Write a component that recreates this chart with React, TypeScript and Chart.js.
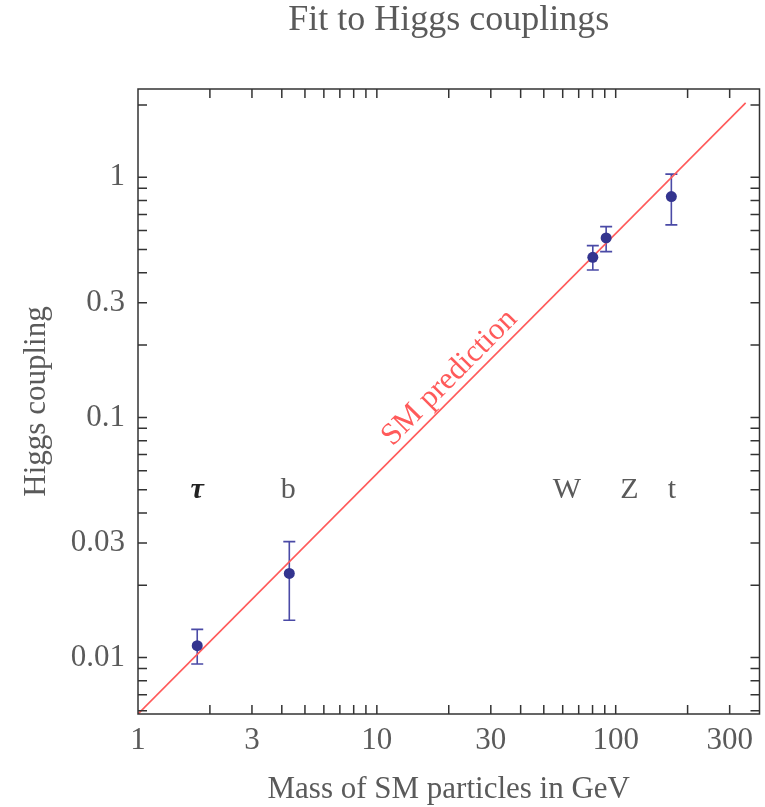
import React, { useEffect, useRef } from "react";
import { Chart, registerables } from "chart.js";

Chart.register(...registerables);

const particles = ["τ", "b", "W", "Z", "t"];
const mass = [1.77, 4.3, 80.2, 91.2, 171];
const coupling = [0.0112, 0.0224, 0.464, 0.559, 0.831];
const couplingLow = [0.0094, 0.0143, 0.411, 0.49, 0.633];
const couplingHigh = [0.0131, 0.0304, 0.519, 0.623, 1.03];
const labelMass = [1.77, 4.26, 62.5, 114, 172];
const labelCoupling = 0.05;

const smMass = [1, 350];
const smCoupling = [0.00582, 2.04];
const smLabel = "SM prediction";
const smLabelMass = 22.5;

const xTicks = [1, 3, 10, 30, 100, 300];
const xTickLabels = ["1", "3", "10", "30", "100", "300"];
const yTicks = [0.01, 0.03, 0.1, 0.3, 1];
const yTickLabels = ["0.01", "0.03", "0.1", "0.3", "1"];
const xTickMarks = [2, 3, 4, 5, 6, 7, 8, 9, 10, 20, 30, 40, 50, 60, 70, 80, 90, 100, 200, 300];
const yTickMarks = [
  0.006, 0.007, 0.008, 0.009, 0.01, 0.02, 0.03, 0.04, 0.05, 0.06, 0.07, 0.08, 0.09,
  0.1, 0.2, 0.3, 0.4, 0.5, 0.6, 0.7, 0.8, 0.9, 1, 2,
];

const title = "Fit to Higgs couplings";
const xTitle = "Mass of SM particles in GeV";
const yTitle = "Higgs coupling";

const FONT = "'Liberation Serif', 'Times New Roman', serif";
const TEXT = "#5a5a5a";
const FRAME = "#333333";
const POINT = "#33348f";
const ERR = "#4a4aa6";
const RED = "#ff5a5a";

const decorPlugin = {
  id: "decor",
  beforeDatasetsDraw(chart: any) {
    const { ctx, scales } = chart;
    const xs = scales.x;
    const ys = scales.y;
    ctx.save();
    ctx.strokeStyle = ERR;
    ctx.lineWidth = 1.6;
    for (let i = 0; i < mass.length; i++) {
      const px = xs.getPixelForValue(mass[i]);
      const lo = ys.getPixelForValue(couplingLow[i]);
      const hi = ys.getPixelForValue(couplingHigh[i]);
      ctx.beginPath();
      ctx.moveTo(px, lo);
      ctx.lineTo(px, hi);
      ctx.moveTo(px - 6, lo);
      ctx.lineTo(px + 6, lo);
      ctx.moveTo(px - 6, hi);
      ctx.lineTo(px + 6, hi);
      ctx.stroke();
    }
    ctx.restore();
  },
  afterDraw(chart: any) {
    const { ctx, scales, chartArea } = chart;
    const xs = scales.x;
    const ys = scales.y;
    const { left, right, top, bottom } = chartArea;
    ctx.save();
    // frame
    ctx.strokeStyle = FRAME;
    ctx.lineWidth = 1.5;
    ctx.strokeRect(left, top, right - left, bottom - top);
    // tick marks
    const tl = 9;
    ctx.beginPath();
    for (const v of xTickMarks) {
      const px = xs.getPixelForValue(v);
      if (px <= left + 1 || px >= right - 1) continue;
      ctx.moveTo(px, bottom);
      ctx.lineTo(px, bottom - tl);
      ctx.moveTo(px, top);
      ctx.lineTo(px, top + tl);
    }
    for (const v of yTickMarks) {
      const py = ys.getPixelForValue(v);
      if (py <= top + 1 || py >= bottom - 1) continue;
      ctx.moveTo(left, py);
      ctx.lineTo(left + tl, py);
      ctx.moveTo(right, py);
      ctx.lineTo(right - tl, py);
    }
    ctx.stroke();

    // particle labels
    ctx.textAlign = "center";
    ctx.textBaseline = "alphabetic";
    for (let i = 0; i < particles.length; i++) {
      const px = xs.getPixelForValue(labelMass[i]);
      const py = ys.getPixelForValue(labelCoupling) + 8;
      if (i === 0) {
        ctx.font = `italic bold 30px ${FONT}`;
        ctx.fillStyle = "#222222";
      } else {
        ctx.font = `30px ${FONT}`;
        ctx.fillStyle = TEXT;
      }
      ctx.fillText(particles[i], px, py);
    }

    // SM prediction label
    const x1 = xs.getPixelForValue(smMass[0]);
    const y1 = ys.getPixelForValue(smCoupling[0]);
    const x2 = xs.getPixelForValue(smMass[1]);
    const y2 = ys.getPixelForValue(smCoupling[1]);
    const ang = Math.atan2(y2 - y1, x2 - x1);
    const cx = xs.getPixelForValue(smLabelMass);
    const t = (cx - x1) / (x2 - x1);
    const cy = y1 + t * (y2 - y1);
    ctx.translate(cx, cy);
    ctx.rotate(ang);
    ctx.font = `31px ${FONT}`;
    ctx.fillStyle = RED;
    ctx.textAlign = "center";
    ctx.textBaseline = "alphabetic";
    ctx.fillText(smLabel, 0, -8);
    ctx.setTransform(1, 0, 0, 1, 0, 0);

    // titles
    ctx.fillStyle = TEXT;
    ctx.textAlign = "center";
    ctx.textBaseline = "alphabetic";
    ctx.font = `36px ${FONT}`;
    ctx.fillText(title, (left + right) / 2, 30);
    ctx.font = `31px ${FONT}`;
    ctx.fillText(xTitle, (left + right) / 2, 798);
    ctx.translate(45, (top + bottom) / 2);
    ctx.rotate(-Math.PI / 2);
    ctx.fillText(yTitle, 0, 0);
    ctx.restore();
  },
};

export default function App() {
  const ref = useRef<HTMLCanvasElement | null>(null);
  useEffect(() => {
    if (!ref.current) return;
    const chart = new Chart(ref.current, {
      type: "scatter",
      data: {
        datasets: [
          {
            label: "data",
            data: mass.map((m, i) => ({ x: m, y: coupling[i] })),
            backgroundColor: POINT,
            borderWidth: 0,
            pointRadius: 5.5,
            order: 0,
          },
          {
            type: "line",
            label: "SM",
            data: smMass.map((m, i) => ({ x: m, y: smCoupling[i] })),
            borderColor: RED,
            borderWidth: 1.6,
            pointRadius: 0,
            fill: false,
            order: 1,
          } as any,
        ],
      },
      options: {
        responsive: false,
        animation: false,
        events: [],
        layout: { padding: { top: 89, right: 3, left: 0, bottom: 0 } },
        plugins: { legend: { display: false }, title: { display: false }, tooltip: { enabled: false } },
        scales: {
          x: {
            type: "logarithmic",
            min: 1,
            max: 400,
            grid: { display: false, drawTicks: false },
            border: { display: false },
            afterBuildTicks: (s: any) => {
              s.ticks = xTicks.map((v) => ({ value: v }));
            },
            afterFit: (s: any) => {
              s.height = 93;
            },
            ticks: {
              autoSkip: false,
              maxRotation: 0,
              padding: 8,
              color: TEXT,
              font: { family: FONT, size: 31 },
              callback: (_v: any, i: number) => xTickLabels[i],
            },
          },
          y: {
            type: "logarithmic",
            min: 0.00582,
            max: 2.33,
            grid: { display: false, drawTicks: false },
            border: { display: false },
            afterBuildTicks: (s: any) => {
              s.ticks = yTicks.map((v) => ({ value: v }));
            },
            afterFit: (s: any) => {
              s.width = 138;
            },
            ticks: {
              autoSkip: false,
              padding: 13,
              color: TEXT,
              font: { family: FONT, size: 31 },
              callback: (_v: any, i: number) => yTickLabels[i],
            },
          },
        },
      } as any,
      plugins: [decorPlugin],
    });
    return () => chart.destroy();
  }, []);
  return (
    <div style={{ position: "absolute", left: 0, top: 0, width: 765, height: 807, background: "#fff" }}>
      <canvas ref={ref} width={765} height={807} />
    </div>
  );
}
